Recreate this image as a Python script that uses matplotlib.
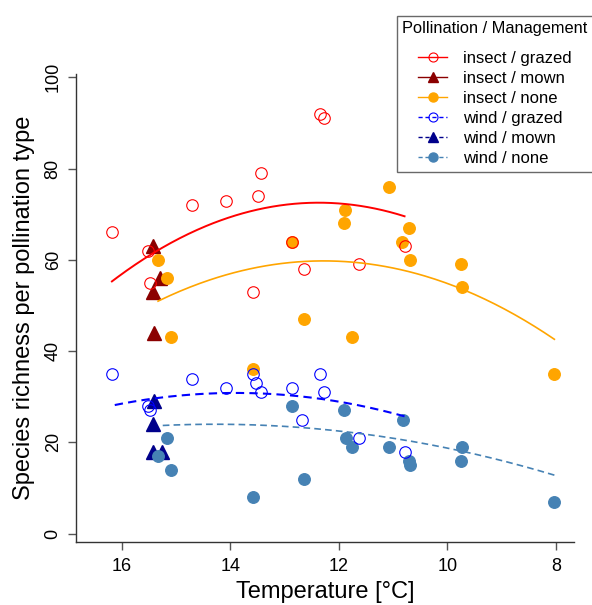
import numpy as np
import matplotlib
matplotlib.use("Agg")
import matplotlib.pyplot as plt
from matplotlib.lines import Line2D

plt.rcParams['font.family'] = ['Liberation Sans', 'DejaVu Sans']

# ---------------- data ----------------
# insect-pollinated species richness
ins_grazed_T = [16.18, 15.51, 15.48, 14.71, 14.07, 13.48, 13.43, 13.59, 12.35, 12.27, 12.86, 12.65, 11.63, 10.79]
ins_grazed_S = [66, 62, 55, 72, 73, 74, 79, 53, 92, 91, 64, 58, 59, 63]

ins_mown_T = [15.42, 15.29, 15.42, 15.40]
ins_mown_S = [63, 56, 53, 44]

ins_none_T = [15.33, 15.17, 15.09, 13.59, 12.86, 12.64, 11.89, 11.91, 11.76, 11.08, 10.70, 10.83, 10.69, 9.75, 9.73, 8.03]
ins_none_S = [60, 56, 43, 36, 64, 47, 71, 68, 43, 76, 67, 64, 60, 59, 54, 35]

# wind-pollinated species richness
wind_grazed_T = [16.18, 15.51, 15.48, 14.71, 14.07, 13.59, 13.53, 13.43, 12.87, 12.35, 12.27, 12.67, 11.63, 10.79]
wind_grazed_S = [35, 28, 27, 34, 32, 35, 33, 31, 32, 35, 31, 25, 21, 18]

wind_mown_T = [15.41, 15.42, 15.42, 15.26]
wind_mown_S = [29, 24, 18, 18]

wind_none_T = [15.17, 15.33, 15.09, 13.58, 12.86, 12.64, 11.91, 11.87, 11.76, 11.08, 10.82, 10.70, 10.69, 9.74, 9.75, 8.03]
wind_none_S = [21, 17, 14, 8, 28, 12, 27, 21, 19, 19, 25, 16, 15, 19, 16, 7]

# fitted quadratic trend curves
fit_ins_grazed_T = [16.18, 13.45, 12.35, 10.79]
fit_ins_grazed_S = [55.3, 71.0, 72.7, 69.5]
fit_ins_none_T = [15.33, 12.35, 11.32, 9.71, 8.03]
fit_ins_none_S = [50.9, 60.0, 58.8, 53.3, 42.7]
fit_wind_grazed_T = [16.18, 14.07, 13.43, 11.92, 10.79]
fit_wind_grazed_S = [28.0, 31.0, 30.8, 28.4, 25.9]
fit_wind_none_T = [15.29, 13.64, 11.79, 10.5, 8.03]
fit_wind_none_S = [23.5, 24.3, 22.0, 19.8, 12.9]

x_ticks = [16, 14, 12, 10, 8]
y_ticks = [0, 20, 40, 60, 80, 100]

legend_labels = ["insect / grazed", "insect / mown", "insect / none",
                 "wind / grazed", "wind / mown", "wind / none"]

# ---------------- figure ----------------
W, H = 592, 605
fig = plt.figure(figsize=(W / 100, H / 100), dpi=100)
ax = fig.add_axes([76.3 / W, (H - 542) / H, (574.3 - 76.3) / W, (542 - 74.3) / H])

RED = "#FF0000"
DRED = "#8B0000"
ORANGE = "#FFA500"
BLUE = "#0000FF"
NAVY = "#00008B"
STEEL = "#4682B4"

ms_c = 8.3
ms_t = 9.5

# points
ax.plot(ins_mown_T, ins_mown_S, ls='none', marker='^', ms=ms_t, color=DRED, mec=DRED, zorder=3)
ax.plot(ins_none_T, ins_none_S, ls='none', marker='o', ms=ms_c, color=ORANGE, mec=ORANGE, zorder=3)
ax.plot(ins_grazed_T, ins_grazed_S, ls='none', marker='o', ms=ms_c, mfc='none', mec=RED, mew=0.8, zorder=3)
ax.plot(wind_mown_T, wind_mown_S, ls='none', marker='^', ms=ms_t, color=NAVY, mec=NAVY, zorder=3)
ax.plot(wind_none_T, wind_none_S, ls='none', marker='o', ms=ms_c, color=STEEL, mec=STEEL, zorder=3)
ax.plot(wind_grazed_T, wind_grazed_S, ls='none', marker='o', ms=ms_c, mfc='none', mec=BLUE, mew=0.8, zorder=3)

# quadratic trend curves
def trend(T, S, color, dashed, lw):
    c = np.polyfit(T, S, 2)
    xs = np.linspace(min(T), max(T), 200)
    ln, = ax.plot(xs, np.polyval(c, xs), color=color, lw=lw, zorder=4)
    if dashed:
        ln.set_dashes((4, 2.5))
    return ln

trend(fit_ins_grazed_T, fit_ins_grazed_S, RED, False, 1.4)
trend(fit_ins_none_T, fit_ins_none_S, ORANGE, False, 1.2)
trend(fit_wind_grazed_T, fit_wind_grazed_S, BLUE, True, 1.5)
trend(fit_wind_none_T, fit_wind_none_S, STEEL, True, 1.2)

# axes styling (R bty="l")
ax.set_xlim(16.836, 7.663)
ax.set_ylim(-1.82, 100.66)
ax.set_xticks(x_ticks)
ax.set_yticks(y_ticks)
ax.set_xticklabels([str(v) for v in x_ticks])
ax.set_yticklabels([str(v) for v in y_ticks], rotation=90, va='center')
for s in ['top', 'right']:
    ax.spines[s].set_visible(False)
for s in ['left', 'bottom']:
    ax.spines[s].set_color('#333333')
    ax.spines[s].set_linewidth(1.0)
ax.tick_params(axis='both', direction='out', length=5.5, width=1.0, color='#555555',
               labelsize=13, labelcolor='black')
ax.tick_params(axis='x', pad=6)
ax.tick_params(axis='y', pad=5)

ax.set_xlabel("Temperature [°C]", fontsize=17, labelpad=4.5)
ax.set_ylabel("Species richness per pollination type", fontsize=17)
ax.yaxis.set_label_coords(-0.083, 0.5)

# legend
handles = [
    Line2D([], [], color=RED, lw=1, marker='o', ms=6.5, mfc='none', mec=RED, mew=0.8),
    Line2D([], [], color=DRED, lw=1, marker='^', ms=7, mfc=DRED, mec=DRED),
    Line2D([], [], color=ORANGE, lw=1, marker='o', ms=6.5, mfc=ORANGE, mec=ORANGE),
    Line2D([], [], color=BLUE, lw=1, ls=(0, (3, 2)), marker='o', ms=6.5, mfc='none', mec=BLUE, mew=0.8),
    Line2D([], [], color=NAVY, lw=1, ls=(0, (3, 2)), marker='^', ms=7, mfc=NAVY, mec=NAVY),
    Line2D([], [], color=STEEL, lw=1, ls=(0, (3, 2)), marker='o', ms=6.5, mfc=STEEL, mec=STEEL),
]
leg = fig.legend(handles, legend_labels, title="Pollination / Management",
                 loc='upper left', bbox_to_anchor=(397 / W, 1 - 16 / H),
                 fontsize=12, title_fontsize=11.8, frameon=True, fancybox=False,
                 borderpad=0.33, labelspacing=0.3, handlelength=1.75, handletextpad=0.95,
                 borderaxespad=0)
leg._legend_box.sep = 10.5
leg.get_frame().set_edgecolor('#444444')
leg.get_frame().set_linewidth(1.0)

fig.savefig("out.png", dpi=100)
